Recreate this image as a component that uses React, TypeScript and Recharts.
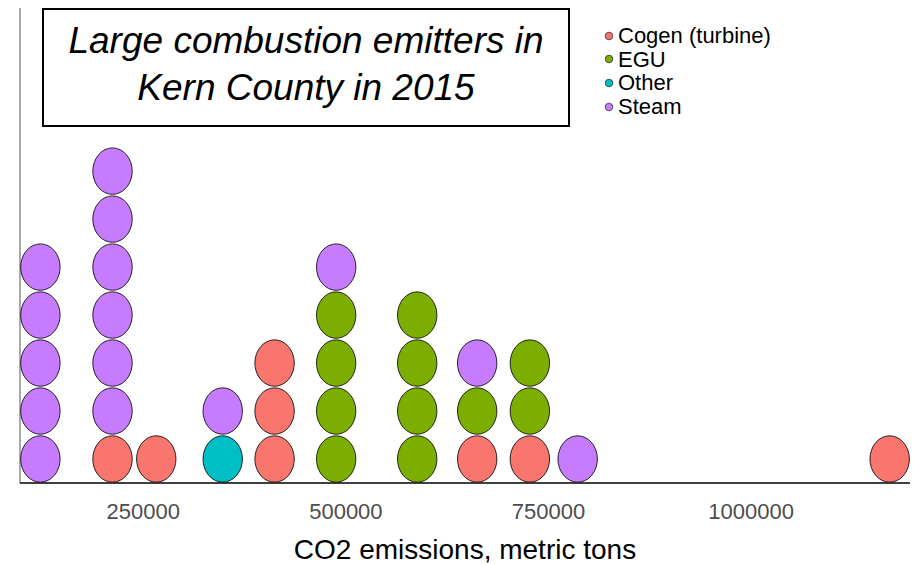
import React from 'react';
import { ScatterChart, Scatter, XAxis, YAxis } from 'recharts';

// CO2 emissions (metric tons) per facility
const cogen = [212000, 266000, 412000, 412000, 412000, 662000, 727000, 1171000];
const egu = [488000, 488000, 488000, 488000, 588000, 588000, 588000, 588000, 662000, 727000, 727000];
const other = [348000];
const steam = [
  123000, 123000, 123000, 123000, 123000,
  212000, 212000, 212000, 212000, 212000, 212000,
  348000, 488000, 662000, 786000,
];

const types = ['Cogen (turbine)', 'EGU', 'Other', 'Steam'];
const colors = ['#F8766D', '#7CAE00', '#00BFC4', '#C77CFF'];
const seriesValues = [cogen, egu, other, steam];
const xTicks = [250000, 500000, 750000, 1000000];

// stack dots in each bin, in legend order (bottom to top)
const stackCount: Record<number, number> = {};
const seriesData = seriesValues.map((vals) =>
  vals.map((v) => {
    const idx = stackCount[v] ?? 0;
    stackCount[v] = idx + 1;
    return { x: v, y: idx + 0.5 };
  })
);

const FONT = '"Liberation Sans", Arial, sans-serif';

const Dot = (props: any) => {
  const { cx, cy, fill } = props;
  if (cx == null || cy == null) return null;
  return <ellipse cx={cx} cy={cy} rx={19.7} ry={23.2} fill={fill} stroke="#111" strokeWidth={0.9} />;
};

// drawn outside the chart so it takes no room from the plot area
const LegendBox = () => (
  <div style={{ position: 'absolute', left: 604, top: 24, fontFamily: FONT, fontSize: 22 }}>
    {types.map((t, i) => (
      <div key={t} style={{ display: 'flex', alignItems: 'center', height: 23.6, color: '#000' }}>
        <svg width={14} height={12}>
          <circle cx={5} cy={6} r={3.8} fill={colors[i]} stroke="#333" strokeWidth={0.8} />
        </svg>
        <span style={{ lineHeight: '23.6px' }}>{t}</span>
      </div>
    ))}
  </div>
);

export default function App() {
  return (
    <div style={{ position: 'absolute', left: 0, top: 0, width: 914, height: 565, background: '#fff' }}>
      <ScatterChart width={914} height={565} margin={{ top: 8, right: 4, left: 19, bottom: 0 }}>
        <XAxis
          type="number"
          dataKey="x"
          domain={[97850, 1196100]}
          ticks={xTicks}
          allowDataOverflow
          height={82}
          tickLine={false}
          tickSize={0}
          tickMargin={20}
          tick={{ fill: '#4D4D4D', fontSize: 22, fontFamily: FONT }}
          axisLine={{ stroke: '#000', strokeWidth: 1.6 }}
          label={{
            value: 'CO2 emissions, metric tons',
            position: 'insideBottom',
            offset: 6,
            fill: '#000',
            fontSize: 28,
            fontFamily: FONT,
          }}
        />
        <YAxis
          type="number"
          dataKey="y"
          domain={[0, 9.9]}
          allowDataOverflow
          width={1}
          tick={false}
          tickLine={false}
          axisLine={{ stroke: '#555', strokeWidth: 1 }}
        />
        {seriesData.map((d, i) => (
          <Scatter
            key={types[i]}
            name={types[i]}
            data={d}
            fill={colors[i]}
            shape={<Dot />}
            isAnimationActive={false}
          />
        ))}
      </ScatterChart>
      <LegendBox />
      <div
        style={{
          position: 'absolute',
          left: 42,
          top: 8,
          width: 524,
          height: 107,
          border: '2px solid #000',
          fontFamily: FONT,
          fontStyle: 'italic',
          fontSize: 37,
          lineHeight: '46.5px',
          textAlign: 'center',
          paddingTop: 8,
          boxSizing: 'content-box',
          color: '#000',
          background: '#fff',
        }}
      >
        Large combustion emitters in
        <br />
        Kern County in 2015
      </div>
    </div>
  );
}
